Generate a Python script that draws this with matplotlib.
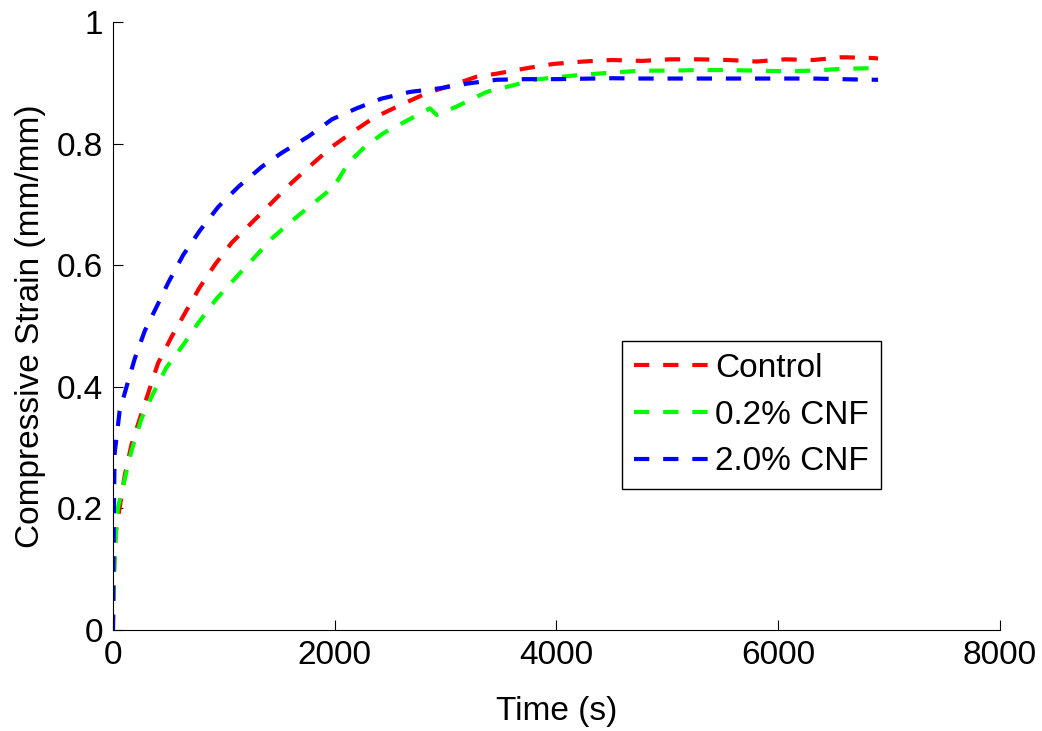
import matplotlib
matplotlib.use("Agg")
import matplotlib.pyplot as plt
from matplotlib.ticker import FuncFormatter

plt.rcParams['font.family'] = ['Liberation Sans', 'DejaVu Sans']
plt.rcParams['lines.scale_dashes'] = False

# time (s) and strain (mm/mm)
t_control = [0, 5, 12, 25, 106, 166, 241, 317, 407, 528, 649, 784, 920, 1071, 1252,
             1433, 1614, 1795, 1976, 2168, 2348, 2588, 2829, 3040, 3280, 3461, 3731,
             3971, 4242, 4498, 4768, 5024, 5285, 5550, 5805, 6061, 6316, 6572, 6827, 6900]
y_control = [0, 0.06, 0.11, 0.16, 0.254, 0.304, 0.347, 0.389, 0.439, 0.482, 0.521, 0.564,
             0.601, 0.637, 0.670, 0.703, 0.736, 0.766, 0.795, 0.820, 0.842, 0.863, 0.883,
             0.895, 0.910, 0.915, 0.924, 0.931, 0.935, 0.9375, 0.936, 0.9386, 0.9386,
             0.9375, 0.935, 0.9386, 0.9375, 0.942, 0.941, 0.940]

t_cnf02 = [0, 5, 15, 30, 45, 106, 166, 256, 362, 483, 634, 769, 935, 1101, 1282, 1433,
           1614, 1795, 1991, 2127, 2273, 2438, 2664, 2859, 2919, 3100, 3370, 3611, 3791,
           4212, 4498, 4768, 5024, 5285, 5550, 5805, 6061, 6316, 6572, 6827, 6900]
y_cnf02 = [0, 0.06, 0.12, 0.17, 0.201, 0.248, 0.294, 0.347, 0.389, 0.432, 0.469, 0.505,
           0.545, 0.578, 0.614, 0.644, 0.673, 0.700, 0.729, 0.769, 0.795, 0.817, 0.839,
           0.858, 0.847, 0.861, 0.885, 0.896, 0.905, 0.913, 0.9167, 0.920, 0.920, 0.921,
           0.921, 0.920, 0.919, 0.920, 0.923, 0.924, 0.924]

t_cnf20 = [0, 5, 10, 15, 60, 121, 196, 287, 392, 498, 634, 784, 950, 1131, 1343, 1524,
           1765, 1976, 2198, 2423, 2679, 2949, 3205, 3461, 3731, 4000, 4498, 4768, 5024,
           5285, 5550, 5805, 6061, 6316, 6572, 6827, 6900]
y_cnf20 = [0, 0.12, 0.22, 0.29, 0.36, 0.399, 0.446, 0.492, 0.531, 0.571, 0.617, 0.657,
           0.696, 0.729, 0.762, 0.785, 0.812, 0.840, 0.858, 0.874, 0.885, 0.891, 0.899,
           0.905, 0.906, 0.906, 0.9075, 0.907, 0.907, 0.907, 0.907, 0.907, 0.907, 0.907,
           0.906, 0.905, 0.905]

labels = ['Control', '0.2% CNF', '2.0% CNF']
colors = ['#ff0000', '#00ff00', '#0000ff']

fig = plt.figure(figsize=(10.42, 7.31), dpi=100)
ax = fig.add_axes([0.1084, 0.1382, 0.8513, 0.8317])

for t, y, c, lab in zip([t_control, t_cnf02, t_cnf20],
                        [y_control, y_cnf02, y_cnf20], colors, labels):
    ln, = ax.plot(t, y, color=c, lw=3, label=lab)
    ln.set_dashes([11, 10])

ax.set_xlim(0, 8000)
ax.set_ylim(0, 1)
ax.set_xticks([0, 2000, 4000, 6000, 8000])
ax.set_yticks([0, 0.2, 0.4, 0.6, 0.8, 1.0])
ax.yaxis.set_major_formatter(FuncFormatter(lambda v, p: '%g' % v))
ax.spines['top'].set_visible(False)
ax.spines['right'].set_visible(False)
ax.spines['left'].set_linewidth(0.8)
ax.spines['bottom'].set_linewidth(0.8)
ax.tick_params(direction='in', length=7, width=0.8, labelsize=24, pad=7)

ax.set_xlabel('Time (s)', fontsize=24, labelpad=18)
ax.set_ylabel('Compressive Strain (mm/mm)', fontsize=24, labelpad=8)

leg = ax.legend(loc='upper left', bbox_to_anchor=(0.574, 0.475), borderaxespad=0,
                fontsize=24, handlelength=2.25, handletextpad=0.2, labelspacing=0.47,
                borderpad=0.35, fancybox=False, framealpha=1, edgecolor='black')
leg.get_frame().set_linewidth(1.0)

fig.savefig('out.png', dpi=100)
